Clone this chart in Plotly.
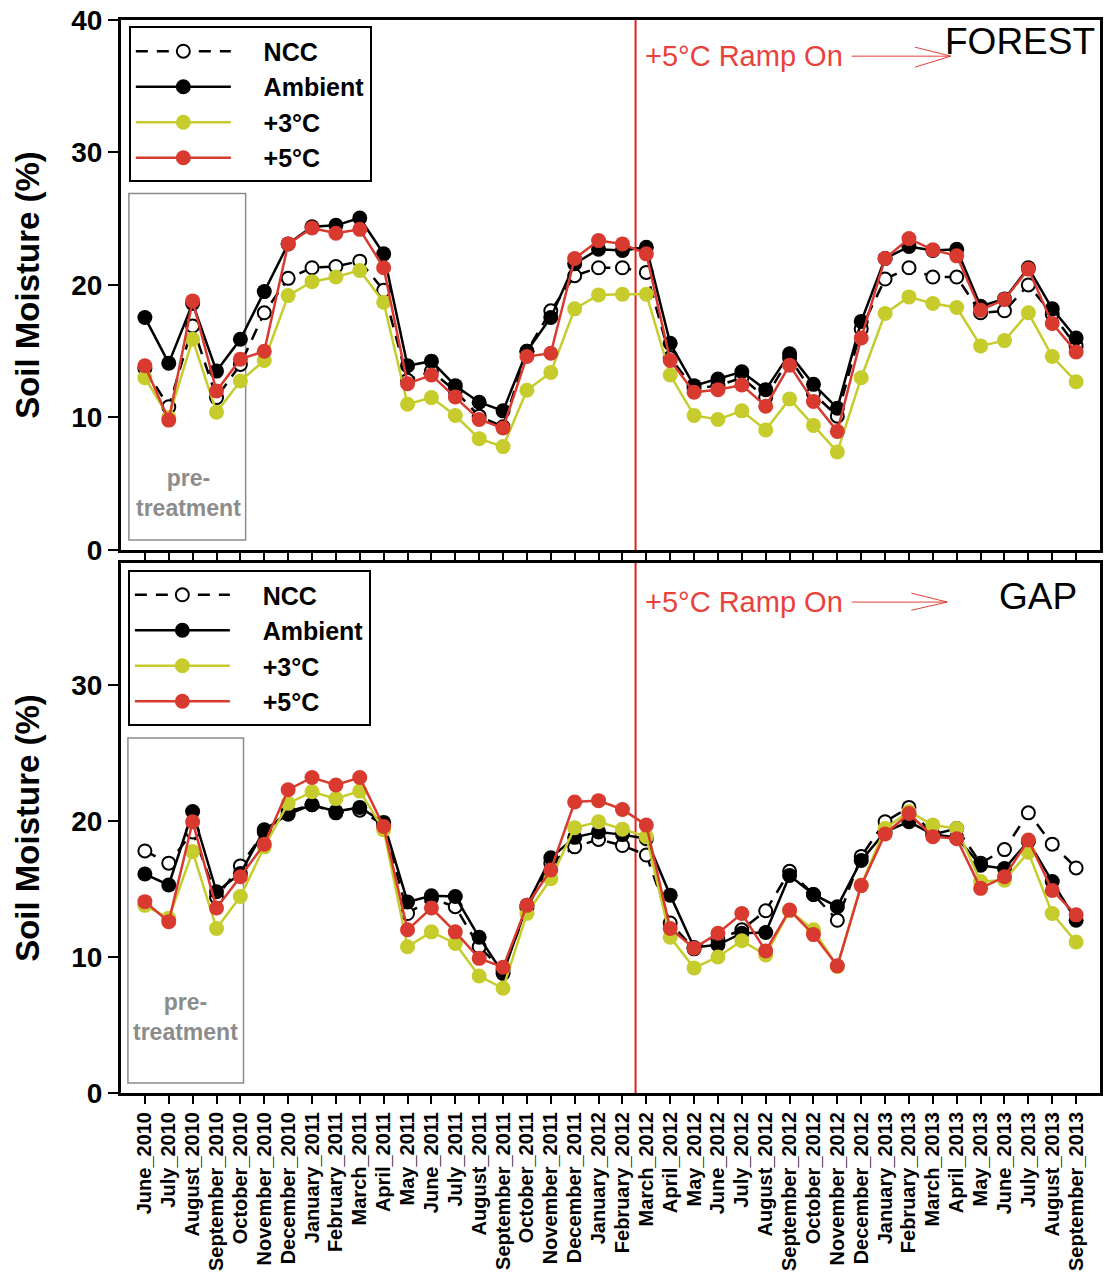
import plotly.graph_objects as go

# Sampling months (shared x axis for both sites)
months = [
    "June_2010", "July_2010", "August_2010", "September_2010", "October_2010",
    "November_2010", "December_2010", "January_2011", "February_2011", "March_2011",
    "April_2011", "May_2011", "June_2011", "July_2011", "August_2011",
    "September_2011", "October_2011", "November_2011", "December_2011", "January_2012",
    "February_2012", "March_2012", "April_2012", "May_2012", "June_2012",
    "July_2012", "August_2012", "September_2012", "October_2012", "November_2012",
    "December_2012", "January_2013", "February_2013", "March_2013", "April_2013",
    "May_2013", "June_2013", "July_2013", "August_2013", "September_2013",
]

# FOREST site, soil moisture (%)
forest_ncc = [13.7, 10.8, 16.9, 11.5, 14.0, 17.9, 20.5, 21.3, 21.4, 21.8,
              19.6, 12.8, 13.5, 12.0, 10.1, 9.3, 15.0, 18.05, 20.7, 21.3,
              21.3, 20.95, 14.5, 12.2, 12.4, 13.0, 11.5, 14.5, 11.8, 10.1,
              16.7, 20.45, 21.3, 20.6, 20.6, 17.9, 18.05, 20.0, 17.8, 15.4]
forest_amb = [17.55, 14.1, 18.6, 13.5, 15.9, 19.5, 23.1, 24.4, 24.5, 25.05,
              22.35, 13.9, 14.25, 12.4, 11.15, 10.5, 15.0, 17.55, 21.6, 22.7,
              22.6, 22.85, 15.6, 12.4, 12.9, 13.45, 12.1, 14.8, 12.5, 10.7,
              17.25, 22.0, 22.9, 22.6, 22.7, 18.4, 18.95, 21.3, 18.2, 16.0]
forest_p3 = [13.0, 10.0, 15.9, 10.4, 12.75, 14.3, 19.2, 20.25, 20.6, 21.1,
             18.7, 11.0, 11.5, 10.15, 8.4, 7.8, 12.05, 13.4, 18.2, 19.25,
             19.3, 19.3, 13.2, 10.15, 9.85, 10.5, 9.05, 11.4, 9.4, 7.4,
             13.0, 17.85, 19.1, 18.6, 18.3, 15.4, 15.8, 17.9, 14.6, 12.7]
forest_p5 = [13.9, 9.8, 18.8, 12.0, 14.4, 15.0, 23.1, 24.3, 23.9, 24.2,
             21.3, 12.55, 13.2, 11.55, 9.85, 9.2, 14.6, 14.85, 22.0, 23.35,
             23.1, 22.35, 14.3, 11.9, 12.1, 12.45, 10.85, 13.95, 11.2, 8.95,
             16.0, 22.0, 23.5, 22.65, 22.2, 18.1, 18.9, 21.2, 17.1, 14.95]

# GAP site, soil moisture (%)
gap_ncc = [17.8, 16.9, 19.2, 14.4, 16.7, 19.2, 20.7, 21.2, 20.6, 20.8,
           19.7, 13.2, 14.3, 13.7, 10.75, 9.0, 13.6, 16.9, 18.1, 18.65,
           18.2, 17.5, 12.5, 10.6, 11.3, 12.0, 13.4, 16.3, 14.6, 12.7,
           17.4, 19.95, 21.0, 19.0, 19.45, 16.9, 17.9, 20.6, 18.3, 16.55]
gap_amb = [16.1, 15.3, 20.7, 14.8, 16.15, 19.35, 20.5, 21.2, 20.7, 21.0,
           19.9, 14.05, 14.5, 14.45, 11.45, 8.8, 13.8, 17.3, 18.8, 19.2,
           19.0, 18.7, 14.55, 10.7, 10.9, 11.75, 11.8, 16.0, 14.6, 13.7,
           17.1, 19.2, 19.95, 19.0, 18.8, 16.75, 16.5, 18.5, 15.55, 12.7]
gap_p3 = [13.8, 12.85, 17.75, 12.1, 14.45, 18.1, 21.3, 22.15, 21.65, 22.2,
          19.35, 10.75, 11.85, 11.0, 8.6, 7.7, 13.2, 15.75, 19.5, 19.95,
          19.4, 18.85, 11.45, 9.2, 10.0, 11.2, 10.15, 13.4, 12.0, 9.3,
          15.3, 19.45, 20.7, 19.7, 19.45, 15.55, 15.65, 17.7, 13.2, 11.1]
gap_p5 = [14.07, 12.6, 19.95, 13.6, 15.9, 18.3, 22.3, 23.2, 22.65, 23.2,
          19.6, 12.0, 13.6, 11.85, 9.9, 9.25, 13.8, 16.4, 21.4, 21.5,
          20.85, 19.7, 12.1, 10.65, 11.75, 13.2, 10.45, 13.45, 11.65, 9.35,
          15.25, 19.05, 20.55, 18.85, 18.7, 15.05, 15.9, 18.6, 14.9, 13.1]

series_names = ["NCC", "Ambient", "+3°C", "+5°C"]
YELLOW = "#c5cc2c"
RED = "#d83a30"
FONT = "Arial, Liberation Sans, sans-serif"
GAP_TXT = "\u00a0\u00a0\u00a0\u00a0"  # spacing between legend symbol and label

x_idx = list(range(len(months)))
ramp_on_x = 20.55  # between February_2012 and March_2012

fig = go.Figure()


def add_site(values, xa, ya, legend_name):
    styles = [
        dict(line=dict(color="black", width=2.5, dash="12px,9px"),
             marker=dict(symbol="circle", size=13, color="white",
                         line=dict(color="black", width=2))),
        dict(line=dict(color="black", width=2.5),
             marker=dict(symbol="circle", size=15, color="black")),
        dict(line=dict(color=YELLOW, width=2.5),
             marker=dict(symbol="circle", size=15, color=YELLOW)),
        dict(line=dict(color=RED, width=2.5),
             marker=dict(symbol="circle", size=15, color=RED)),
    ]
    for name, vals, st in zip(series_names, values, styles):
        fig.add_trace(go.Scatter(
            x=x_idx, y=vals, mode="lines+markers", name=GAP_TXT + name,
            xaxis=xa, yaxis=ya, legend=legend_name, **st))


add_site([forest_ncc, forest_amb, forest_p3, forest_p5], "x", "y", "legend")
add_site([gap_ncc, gap_amb, gap_p3, gap_p5], "x2", "y2", "legend2")

axis_common = dict(showgrid=False, zeroline=False, showline=True, linecolor="black",
                   linewidth=3, mirror=True, ticks="outside", tickcolor="black",
                   tickwidth=2)

legend_common = dict(xanchor="left", yanchor="top", bgcolor="white",
                     bordercolor="black", borderwidth=2,
                     font=dict(family=FONT, size=25, color="black", weight="bold"),
                     itemwidth=95, tracegroupgap=0)

fig.update_layout(
    width=1104, height=1279,
    margin=dict(l=121, r=1, t=20, b=186),
    plot_bgcolor="white", paper_bgcolor="white",
    font=dict(family=FONT, color="black"),
    showlegend=True,
    legend=dict(x=0.008, y=0.994, **legend_common),
    legend2=dict(x=0.007, y=0.4874, **legend_common),
    xaxis=dict(domain=[0, 1], anchor="y", range=[-1, 40], tickmode="array",
               tickvals=x_idx, ticktext=months, showticklabels=False, ticklen=8,
               **axis_common),
    yaxis=dict(domain=[0.5061, 1], anchor="x", range=[0, 40], tickvals=[0, 10, 20, 30, 40],
               ticklen=10, tickfont=dict(family=FONT, size=28, weight="bold"),
               title=dict(text="Soil Moisture (%)", standoff=22,
                          font=dict(family=FONT, size=33, weight="bold")),
               **axis_common),
    xaxis2=dict(domain=[0, 1], anchor="y2", range=[-1, 40], tickmode="array",
                tickvals=x_idx, ticktext=months, tickangle=-90, ticklen=8,
                tickfont=dict(family=FONT, size=20, weight="bold"),
                **axis_common),
    yaxis2=dict(domain=[0, 0.4939], anchor="x2", range=[0, 38.97], tickvals=[0, 10, 20, 30],
                ticklen=10, tickfont=dict(family=FONT, size=28, weight="bold"),
                title=dict(text="Soil Moisture (%)", standoff=22,
                           font=dict(family=FONT, size=33, weight="bold")),
                **axis_common),
)

# Pre-treatment boxes, ramp-on lines and arrows for each panel
panels = [
    dict(xr="x", yr="y", box=(-0.67, 4.22, 0.76, 26.9), label_y=4.3, label_x=1.84,
         ramp_y=37.3, arrow=(29.6, 33.75, 37.27, 37.95, 36.44), top=40,
         site="FOREST", site_x=39.87, site_y=38.4, site_anchor="right"),
    dict(xr="x2", yr="y2", box=(-0.71, 4.13, 0.74, 26.1), label_y=5.6, label_x=1.72,
         ramp_y=36.1, arrow=(29.6, 33.6, 36.1, 36.76, 35.5), top=38.97,
         site="GAP", site_x=37.4, site_y=36.5, site_anchor="center"),
]

for p in panels:
    x0, x1, y0, y1 = p["box"]
    fig.add_shape(type="rect", xref=p["xr"], yref=p["yr"], x0=x0, x1=x1, y0=y0, y1=y1,
                  line=dict(color="#8c8c8c", width=1.5), fillcolor="rgba(0,0,0,0)",
                  layer="below")
    fig.add_shape(type="line", xref=p["xr"], yref=p["yr"], x0=ramp_on_x, x1=ramp_on_x,
                  y0=0, y1=p["top"], line=dict(color="#e0201c", width=2), layer="below")
    ax0, ax1, ay, ytop, ybot = p["arrow"]
    fig.add_shape(type="line", xref=p["xr"], yref=p["yr"], x0=ax0, x1=ax1, y0=ay, y1=ay,
                  line=dict(color="#e0403a", width=1))
    fig.add_shape(type="line", xref=p["xr"], yref=p["yr"], x0=ax1 - 1.5, x1=ax1,
                  y0=ytop, y1=ay, line=dict(color="#e0403a", width=1))
    fig.add_shape(type="line", xref=p["xr"], yref=p["yr"], x0=ax1 - 1.5, x1=ax1,
                  y0=ybot, y1=ay, line=dict(color="#e0403a", width=1))
    fig.add_annotation(xref=p["xr"], yref=p["yr"], x=20.88, y=p["ramp_y"],
                       text="+5°C Ramp On", showarrow=False, xanchor="left",
                       yanchor="middle",
                       font=dict(family=FONT, size=29, color="#e8423c"))
    fig.add_annotation(xref=p["xr"], yref=p["yr"], x=p["site_x"], y=p["site_y"],
                       text=p["site"], showarrow=False, xanchor=p["site_anchor"],
                       yanchor="middle", font=dict(family=FONT, size=37, color="black"))
    fig.add_annotation(xref=p["xr"], yref=p["yr"], x=p["label_x"], y=p["label_y"],
                       text="pre-<br>treatment", showarrow=False, xanchor="center",
                       yanchor="middle",
                       font=dict(family=FONT, size=23, color="#8c8c8c", weight="bold"))

fig.write_html("out.html")
